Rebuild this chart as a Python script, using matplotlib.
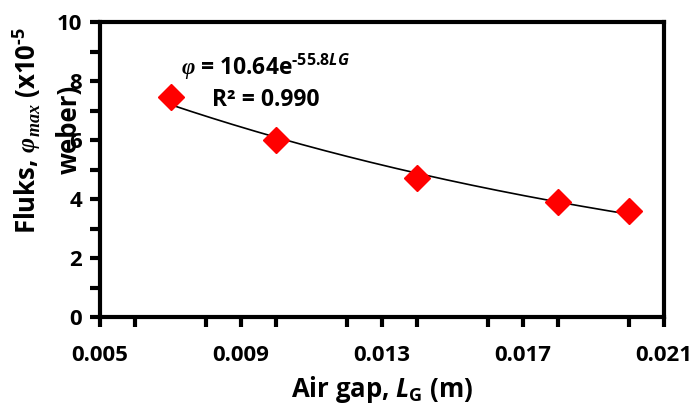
import numpy as np
import matplotlib
matplotlib.use("Agg")
import matplotlib.pyplot as plt
from matplotlib.ticker import MultipleLocator, FixedLocator

air_gap = [0.007, 0.010, 0.014, 0.018, 0.020]
flux = [7.45, 6.0, 4.72, 3.9, 3.58]
x_ticks = [0.005, 0.009, 0.013, 0.017, 0.021]
x_tick_labels = ["0.005", "0.009", "0.013", "0.017", "0.021"]
y_ticks = [0, 2, 4, 6, 8, 10]
fit_a = 10.64
fit_b = -55.8

FONT = 'Open Sans'
plt.rcParams['font.family'] = [FONT, 'DejaVu Sans']
plt.rcParams['font.weight'] = 'bold'
plt.rcParams['mathtext.fontset'] = 'custom'
plt.rcParams['mathtext.rm'] = FONT + ':bold'
plt.rcParams['mathtext.bf'] = FONT + ':bold'
plt.rcParams['mathtext.it'] = FONT + ':bold:italic'
plt.rcParams['mathtext.sf'] = 'Liberation Serif:italic'
plt.rcParams['mathtext.tt'] = 'Liberation Serif:bold:italic'

fig = plt.figure(figsize=(6.94, 4.12), dpi=100)
ax = fig.add_axes([100/694, 1-317/412, 564/694, 295/412])

xf = np.linspace(min(air_gap), max(air_gap), 200)
ax.plot(xf, fit_a*np.exp(fit_b*xf), color='black', lw=1.2, zorder=2)
ax.plot(air_gap, flux, linestyle='none', marker='D', ms=13, color='#ff0000', zorder=3)

ax.set_xlim(0.005, 0.021)
ax.set_ylim(0, 10)
ax.xaxis.set_major_locator(FixedLocator(x_ticks))
ax.set_xticklabels(x_tick_labels)
ax.xaxis.set_minor_locator(MultipleLocator(0.002))
ax.yaxis.set_major_locator(FixedLocator(y_ticks))
ax.yaxis.set_minor_locator(MultipleLocator(1))
for s in ax.spines.values():
    s.set_linewidth(3)
ax.tick_params(which='both', direction='out', width=3, length=7, labelsize=16)
ax.tick_params(axis='x', pad=13)
ax.tick_params(axis='y', pad=6)
for lab in ax.get_xticklabels() + ax.get_yticklabels():
    lab.set_fontweight('bold')

ax.text(0.00971, 8.47, r'$\mathtt{\varphi}$ = 10.64e$^{\text{-55.8}\it{LG}}$', fontsize=16.5,
        fontweight='bold', ha='center', va='center')
ax.text(0.00971, 7.36, 'R² = 0.990', fontsize=16.5, fontweight='bold', ha='center', va='center')

ax.set_xlabel(r'Air gap, $\it{L}_{\rm{G}}$ (m)', fontsize=18.5, fontweight='bold', labelpad=6)
fig.text(27/694, 1-130/412, r'Fluks, $\mathsf{\varphi}_{\mathsf{max}}$ (x10$^{\text{-5}}$', rotation=90,
         fontsize=18.5, fontweight='bold', ha='center', va='center')
fig.text(69/694, 1-129/412, 'weber)', rotation=90, fontsize=18.5, fontweight='bold',
         ha='center', va='center')

fig.savefig('out.png', dpi=100)
